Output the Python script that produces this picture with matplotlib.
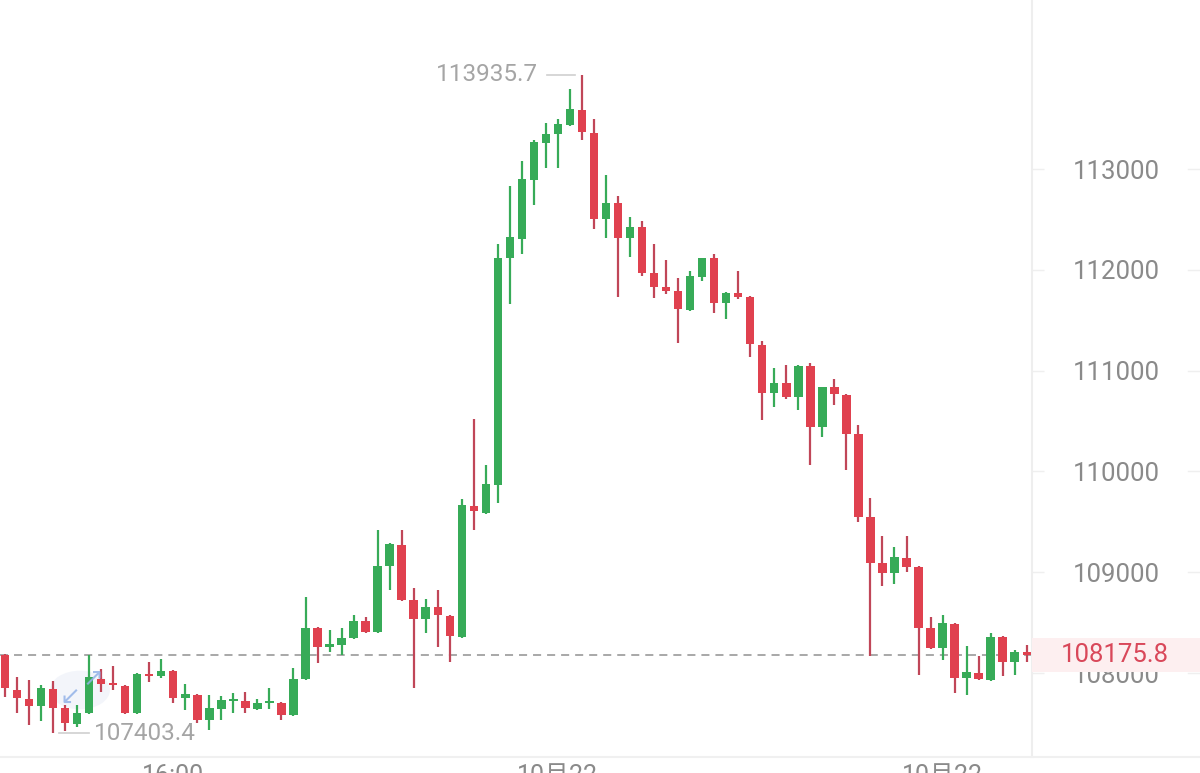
import matplotlib
matplotlib.use("Agg")
import matplotlib.pyplot as plt
import matplotlib.transforms as mtransforms
from matplotlib.patches import Rectangle, Circle
from matplotlib.lines import Line2D
import numpy as np

plt.rcParams['font.family'] = ['Roboto', 'Noto Sans CJK SC', 'DejaVu Sans']
plt.rcParams['lines.scale_dashes'] = False

# ---- data (OHLC) ----
opens = [108179, 107832, 107742, 107673, 107842, 107653, 107494, 107604, 107941, 107901,
         107871, 107604, 107990, 107971, 108020, 107752, 107782, 107534, 107643, 107723,
         107723, 107643, 107703, 107703, 107584, 107941, 108447, 108258, 108278, 108347,
         108516, 108407, 109062, 109270, 108724, 108536, 108655, 108566, 108357, 109657,
         109587, 109865, 112117, 112306, 112891, 113258, 113347, 113436, 113585, 113357,
         112504, 112663, 112316, 112425, 111968, 111829, 111790, 111601, 111929, 112117,
         111671, 111770, 111730, 111254, 110778, 110877, 110738, 111046, 110441, 110837,
         110758, 110371, 109548, 109092, 108992, 109141, 109052, 108447, 108248, 108486,
         107951, 108000, 107931, 108357, 108109, 108209]
highs = [108190, 107961, 107931, 107881, 107921, 107683, 107683, 108179, 108040, 108070,
         107880, 108000, 108109, 108139, 108030, 107891, 107792, 107782, 107772, 107802,
         107812, 107742, 107852, 107713, 108050, 108754, 108457, 108427, 108447, 108576,
         108556, 109419, 109290, 109419, 108844, 108734, 108824, 108576, 109726, 110520,
         110064, 112256, 112831, 113079, 113288, 113456, 113496, 113794, 113935.7, 113496,
         112940, 112732, 112524, 112484, 112256, 112097, 111919, 111988, 112120, 112157,
         111775, 111988, 111740, 111294, 111026, 111056, 111056, 111076, 110840, 110917,
         110770, 110460, 109736, 109359, 109250, 109359, 109060, 108556, 108576, 108496,
         108268, 108170, 108397, 108365, 108228, 108278]
lows = [107762, 107604, 107484, 107524, 107403.4, 107425, 107465, 107595, 107812, 107832,
        107595, 107595, 107911, 107951, 107703, 107633, 107504, 107435, 107534, 107604,
        107604, 107633, 107643, 107534, 107575, 107930, 108100, 108209, 108179, 108340,
        108400, 108400, 108824, 108714, 107852, 108397, 108258, 108109, 108350, 109419,
        109580, 109687, 111661, 112157, 112643, 113010, 113010, 113430, 113288, 112405,
        112316, 111730, 112127, 111939, 111720, 111760, 111274, 111595, 111889, 111572,
        111512, 111710, 111135, 110510, 110639, 110718, 110609, 110064, 110341, 110659,
        110014, 109498, 108170, 108863, 108883, 109002, 107980, 108240, 108129, 107802,
        107782, 107935, 107925, 107970, 107980, 108109]
closes = [107852, 107752, 107673, 107852, 107653, 107504, 107604, 107961, 107891, 107881,
          107604, 107990, 107971, 108020, 107752, 107792, 107534, 107653, 107732, 107742,
          107653, 107703, 107723, 107584, 107941, 108447, 108258, 108288, 108347, 108516,
          108407, 109062, 109280, 108724, 108536, 108655, 108576, 108367, 109667, 109607,
          109875, 112117, 112325, 112901, 113268, 113347, 113446, 113595, 113367, 112504,
          112663, 112316, 112425, 111968, 111829, 111790, 111611, 111939, 112117, 111671,
          111770, 111730, 111264, 110778, 110877, 110738, 111046, 110441, 110837, 110768,
          110371, 109548, 109092, 108992, 109151, 109052, 108447, 108248, 108496, 107951,
          108010, 107941, 108357, 108109, 108209, 108175.8]
ytick_vals = [108000, 109000, 110000, 111000, 112000, 113000]
time_labels = ["16:00", "10月22", "10月22"]
time_label_idx = [14, 46, 78]
last_price = 108175.8

GREEN = '#37ab58'
RED = '#e0414f'
RED_WICK = '#c04658'

W, H = 1200, 773
fig = plt.figure(figsize=(12, 7.73), dpi=100)
fig.patch.set_facecolor('white')

# floating expand button (faint, behind the candles)
fig.add_artist(Circle((80 / W, (H - 690) / H), 30 / W, transform=fig.transFigure,
                      facecolor='#eef2f9', edgecolor='none', alpha=0.7, zorder=-1))

ax = fig.add_axes([0, (H - 757) / H, 1032 / W, 757 / H])
ax.set_facecolor('none')

n = len(opens)
x = np.arange(n)
o = np.array(opens); c = np.array(closes); hi = np.array(highs); lo = np.array(lows)
up = c >= o
body_col = np.where(up, GREEN, RED)
wick_col = np.where(up, GREEN, RED_WICK)
bottom = np.minimum(o, c)
height = np.maximum(np.abs(c - o), 22)

ax.vlines(x, lo, hi, colors=wick_col, linewidth=1.6, zorder=2)
ax.bar(x, height, bottom=bottom, width=0.7, color=body_col, linewidth=0, zorder=3)

ax.set_xlim(-0.416, 85.44)
ax.set_ylim(107166.7, 114676.6)

# last price dashed line
ax.axhline(last_price, color='#a8a8a8', linewidth=1.4, dashes=(5.8, 4.3), zorder=1)

# right axis ticks/labels
ax.yaxis.tick_right()
ax.set_yticks(ytick_vals)
ax.set_yticklabels([str(v) for v in ytick_vals])
ax.tick_params(axis='y', direction='out', length=8.6, width=1, color='#efefef',
               labelsize=18.5, labelcolor='#8a8a8a', pad=51.8)
for lab in ax.get_yticklabels():
    lab.set_horizontalalignment('center')
ax.set_xticks([])
for s in ax.spines.values():
    s.set_visible(False)

blend = mtransforms.blended_transform_factory(fig.transFigure, ax.transData)
for v in ytick_vals:
    fig.add_artist(Line2D([1188 / W, 1.0], [v, v], transform=blend, color='#efefef', lw=1))

# separators
fig.add_artist(Line2D([1032 / W, 1032 / W], [(H - 757) / H, 1.0], transform=fig.transFigure,
                      color='#eeeeee', lw=1.5))
fig.add_artist(Line2D([0, 1], [(H - 757) / H, (H - 757) / H], transform=fig.transFigure,
                      color='#f0f0f0', lw=1.5))

# last price box
box_h = 34 / 0.1008
fig.add_artist(Rectangle((1032 / W, last_price - box_h / 2), 168 / W, box_h, transform=blend,
                         facecolor='#fdeff0', edgecolor='none', zorder=5))
fig.add_artist(plt.Text(1115 / W, last_price, f"{last_price:.1f}", transform=blend,
                        ha='center', va='center', fontsize=18.5, color='#d9485a', zorder=6))

# max / min labels
imax = int(np.argmax(hi)); imin = int(np.argmin(lo))
ax.plot([imax - 2.9, imax - 0.6], [hi[imax], hi[imax]], color='#cfcfcf', lw=1.2, zorder=4)
ax.text(imax - 3.65, hi[imax], f"{hi[imax]:.1f}", ha='right', va='center',
        fontsize=17.5, color='#a5a5a5', zorder=4)
ax.plot([imin + 0.5, imin + 2.95], [lo[imin], lo[imin]], color='#cfcfcf', lw=1.2, zorder=4)
ax.text(imin + 3.4, lo[imin], f"{lo[imin]:.1f}", ha='left', va='center',
        fontsize=17.5, color='#a5a5a5', zorder=4)

# bottom time labels (cut off at bottom edge)
xtrans = mtransforms.blended_transform_factory(ax.transData, fig.transFigure)
for lbl, i in zip(time_labels, time_label_idx):
    fig.text(i + 0.0, (H - 764) / H, lbl, transform=xtrans, ha='center', va='top',
             fontsize=18, color='#8a8a8a')

# arrow icons of the floating button
fig.text(70 / W, (H - 698) / H, "↙", ha='center', va='center', fontsize=18,
         color='#93b2e8', alpha=0.85, family=['DejaVu Sans'], zorder=5)
fig.text(93 / W, (H - 679) / H, "↗", ha='center', va='center', fontsize=18,
         color='#93b2e8', alpha=0.85, family=['DejaVu Sans'], zorder=5)

# bottom-right round button (mostly cut off)
fig.add_artist(Circle((1118 / W, (H - 790) / H), 24 / W, transform=fig.transFigure,
                      facecolor='#d4d4d4', edgecolor='none'))

fig.savefig("out.png", dpi=100)
